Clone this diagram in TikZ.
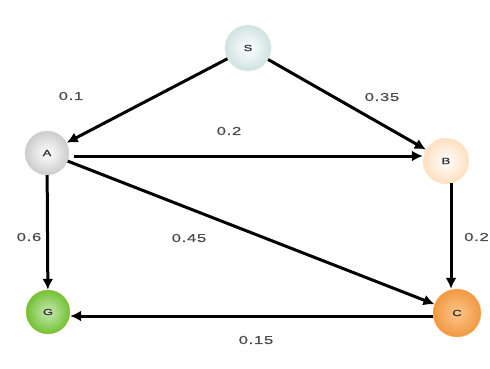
\documentclass[tikz,border=0pt]{standalone}
\usepackage{fontspec}
\setmainfont{Liberation Sans}
\newfontfamily\lblfont[FakeStretch=1.45,LetterSpace=6,FakeBold=0.8]{Liberation Sans}
\usetikzlibrary{arrows.meta}
\begin{document}
\begin{tikzpicture}[x=1pt,y=-1pt,
  vtx/.style={circle,minimum size=46pt,inner sep=0pt,font=\lblfont\fontsize{9}{10}\selectfont,text=black!80},
  edge/.style={line width=3pt,-{Latex[length=11pt,width=11pt]}},
  lbl/.style={font=\lblfont\fontsize{11.5}{12}\selectfont,text=black!70}]
\useasboundingbox (0,0) rectangle (490,368);
\node[vtx,inner color=white,outer color=cyan!25!gray!30!white,draw=cyan!20!gray!25] (S) at (248,48) {S};
\node[vtx,minimum size=44pt,inner color=white,outer color=gray!40,draw=gray!30] (A) at (47,153) {A};
\node[vtx,inner color=white,outer color=orange!25!white,draw=orange!15] (B) at (446,161) {B};
\node[vtx,minimum size=44pt,inner color=green!40!olive!30!white,outer color=green!40!olive!80!white,draw=olive!50] (G) at (48,312) {G};
\node[vtx,minimum size=48pt,inner color=orange!45!white,outer color=orange!70!brown!80!white,draw=orange!60] (C) at (457,313) {C};
\coordinate (a1) at (74,156);
\coordinate (b1) at (451,183);
\coordinate (c1) at (433,316);
\draw[edge] (S) -- (A);
\draw[edge] (S) -- (B);
\draw[edge] (a1) -- (B.west |- a1);
\draw[edge] (A) -- (C);
\draw[edge] (A) -- (G);
\draw[edge] (b1) -- (C.north -| b1);
\draw[edge] (c1) -- (G.east |- c1);
\node[lbl] (l1) at (71,96) {0.1};
\node[lbl] (l2) at (382,97) {0.35};
\node[lbl] (l3) at (229,131) {0.2};
\node[lbl] (l4) at (29,237) {0.6};
\node[lbl] (l5) at (189,238) {0.45};
\node[lbl,anchor=east,inner xsep=1pt] (l6) at (490,237) {0.2};
\node[lbl] (l7) at (256,340) {0.15};
\end{tikzpicture}
\end{document}
